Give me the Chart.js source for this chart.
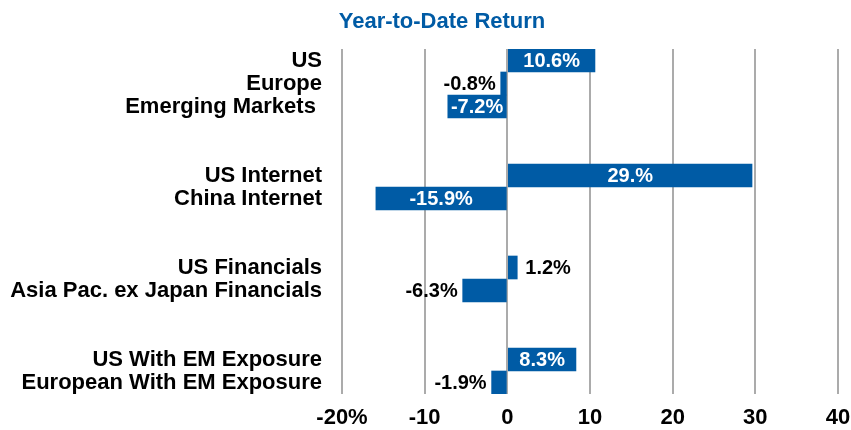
<!DOCTYPE html>
<html>
<head>
<meta charset="utf-8">
<script src="https://cdn.jsdelivr.net/npm/chart.js@4"></script>
<style>
  body { margin: 0; background: #fff; }
  #wrap { width: 851px; height: 430px; }
</style>
</head>
<body>
<div id="wrap"><canvas id="ytdChart"></canvas></div>
<script>
// categories, with empty rows between groups
const categories = ['US', 'Europe', 'Emerging Markets ', '', '', 'US Internet', 'China Internet', '', '',
  'US Financials', 'Asia Pac. ex Japan Financials', '', '', 'US With EM Exposure', 'European With EM Exposure'];
const returns = [10.6, -0.8, -7.2, null, null, 29.6, -15.9, null, null, 1.2, -5.4, null, null, 8.3, -1.9];
const valueLabels = ['10.6%', '-0.8%', '-7.2%', '', '', '29.%', '-15.9%', '', '', '1.2%', '-6.3%', '', '', '8.3%', '-1.9%'];
const tickLabels = ['-20%', '-10', '0', '10', '20', '30', '40'];

const BLUE = '#005BA5';
const FONT = '"Liberation Sans", Arial, sans-serif';

// étiquettes de valeur : blanches dans la barre, noires à côté pour les petites
const barLabels = {
  id: 'barLabels',
  afterDatasetsDraw(chart) {
    const ctx = chart.ctx;
    const meta = chart.getDatasetMeta(0);
    ctx.save();
    ctx.font = 'bold 20px ' + FONT;
    ctx.textBaseline = 'middle';
    meta.data.forEach((bar, i) => {
      const v = returns[i];
      if (v === null) return;
      if (Math.abs(v) >= 7) {
        ctx.fillStyle = '#fff';
        ctx.textAlign = 'center';
        ctx.fillText(valueLabels[i], (bar.x + bar.base) / 2, bar.y + 1);
      } else {
        ctx.fillStyle = '#000';
        ctx.textAlign = v < 0 ? 'right' : 'left';
        ctx.fillText(valueLabels[i], v < 0 ? bar.x - 5 : bar.x + 8, bar.y + 1);
      }
    });
    ctx.restore();
  }
};

const titleText = {
  id: 'titleText',
  afterDraw(chart) {
    const ctx = chart.ctx;
    ctx.save();
    ctx.font = 'bold 22px ' + FONT;
    ctx.fillStyle = BLUE;
    ctx.textAlign = 'center';
    ctx.textBaseline = 'middle';
    ctx.fillText('Year-to-Date Return', 442, 22);
    ctx.restore();
  }
};

new Chart(document.getElementById('ytdChart'), {
  type: 'bar',
  data: {
    labels: categories,
    datasets: [{
      data: returns,
      backgroundColor: BLUE,
      barPercentage: 1,
      categoryPercentage: 1
    }]
  },
  options: {
    indexAxis: 'y',
    responsive: true,
    maintainAspectRatio: false,
    animation: false,
    layout: { padding: { top: 49, right: 13, left: 0, bottom: 0 } },
    plugins: { legend: { display: false }, tooltip: { enabled: false } },
    scales: {
      x: {
        min: -20, max: 40,
        afterFit(scale) {
          scale.height = 36;
          scale.paddingLeft = 0;
          scale.paddingRight = 0;
        },
        grid: { color: '#ABABAB', lineWidth: 2, drawTicks: false },
        border: { display: false },
        ticks: {
          stepSize: 10,
          padding: 11,
          color: '#000',
          font: { family: FONT, size: 22, weight: 'bold' },
          callback: (v, i) => tickLabels[i]
        }
      },
      y: {
        afterFit(scale) { scale.width = 342; },
        grid: { display: false, drawTicks: false },
        border: { display: false },
        ticks: {
          padding: 20,
          autoSkip: false,
          color: '#000',
          font: { family: FONT, size: 22, weight: 'bold' }
        }
      }
    }
  },
  plugins: [barLabels, titleText]
});
</script>
</body>
</html>
